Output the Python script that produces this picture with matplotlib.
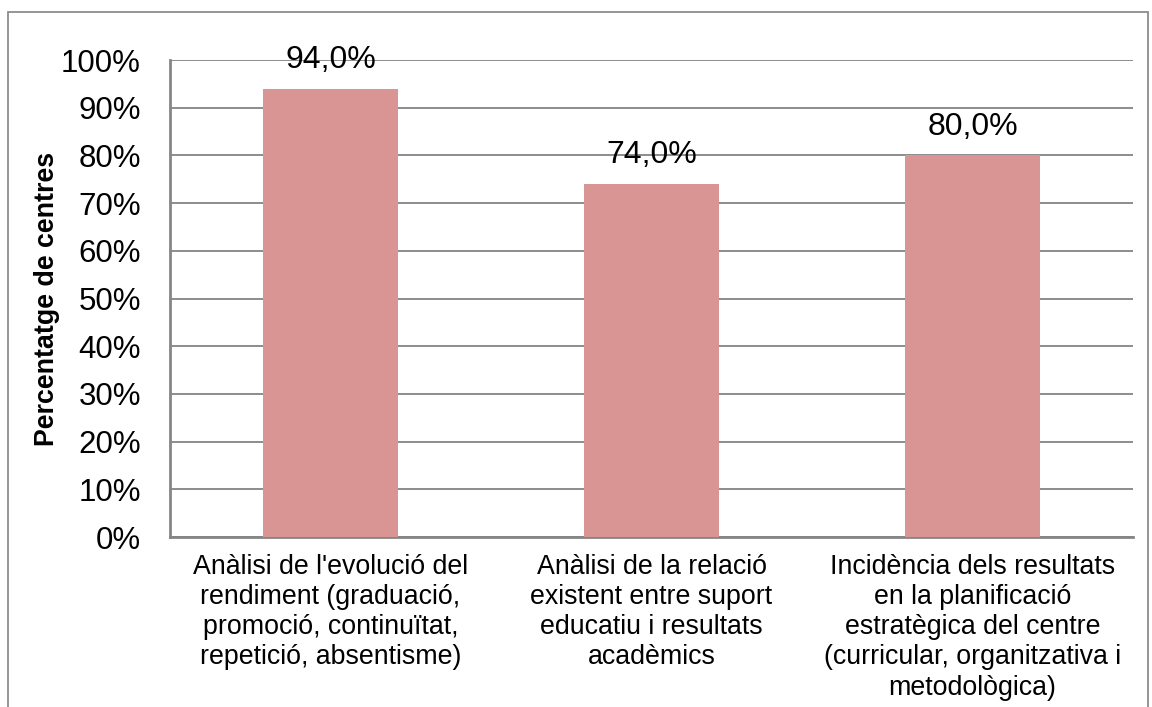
import matplotlib.pyplot as plt
from matplotlib.patches import Rectangle

plt.rcParams['font.family'] = ['Liberation Sans', 'DejaVu Sans']

categories = ["Anàlisi de l'evolució del\nrendiment (graduació,\npromoció, continuïtat,\nrepetició, absentisme)",
              "Anàlisi de la relació\nexistent entre suport\neducatiu i resultats\nacadèmics",
              "Incidència dels resultats\nen la planificació\nestratègica del centre\n(curricular, organitzativa i\nmetodològica)"]
values = [94.0, 74.0, 80.0]
yticks = list(range(0, 101, 10))

fig = plt.figure(figsize=(11.52, 7.07), dpi=100)
ax = fig.add_axes([0.1476, 0.2404, 0.8359, 0.6747])

# outer chart border
fig.patches.append(Rectangle((8 / 1152, -0.05), 1140 / 1152, (707 - 12) / 707 + 0.05,
                             transform=fig.transFigure, fill=False,
                             edgecolor='#8c8c8c', linewidth=1.3))

x = range(len(values))
bars = ax.bar(x, values, width=0.42, color='#D99594', zorder=3)
for i, v in enumerate(values):
    ax.text(i, v + 6.0, f"{v:.1f}%".replace('.', ','), ha='center', va='center',
            fontsize=23, zorder=4)

ax.set_xlim(-0.5, len(values) - 0.5)
ax.set_ylim(0, 100)
ax.set_yticks(yticks)
ax.set_yticklabels([f"{t}%" for t in yticks], fontsize=22.5)
ax.set_xticks(list(x))
ax.set_xticklabels(categories, fontsize=19.3, linespacing=1.21, va='top')
ax.tick_params(axis='y', length=0, pad=21)
ax.tick_params(axis='x', length=0, pad=12)

ax.yaxis.grid(True, color='#8c8c8c', linewidth=1.4, zorder=0)
ax.set_axisbelow(True)
for s in ['top', 'right']:
    ax.spines[s].set_visible(False)
for s in ['left', 'bottom']:
    ax.spines[s].set_color('#868686')
    ax.spines[s].set_linewidth(2)

ax.set_ylabel('Percentatge de centres', fontsize=19.3, fontweight='bold')
ax.yaxis.set_label_coords(-0.114, 0.5)

fig.savefig('out.png', dpi=100)
